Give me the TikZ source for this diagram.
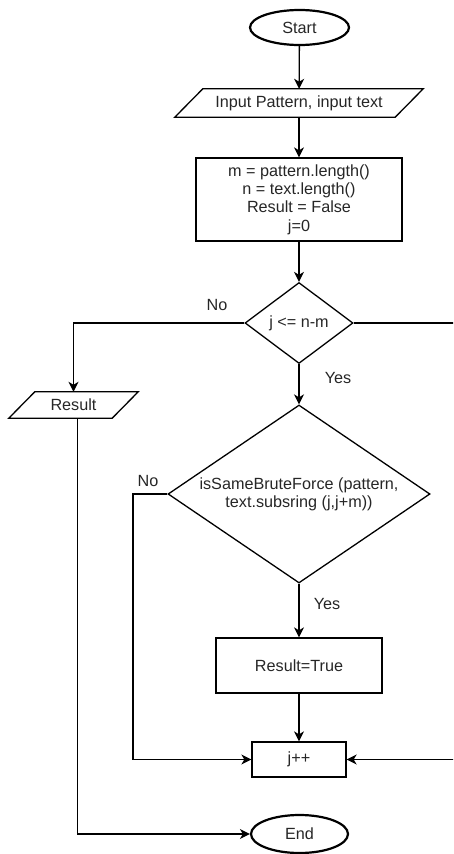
\documentclass[tikz,border=0pt]{standalone}
\usepackage{fontspec}
\setmainfont{Liberation Sans}
\usetikzlibrary{shapes.geometric,arrows.meta}
\newcommand\slantbox[2]{%
  \draw[outline] ([xshift=-#2]#1.south west) -- ([xshift=#2]#1.north west)
    -- ([xshift=#2]#1.north east) -- ([xshift=-#2]#1.south east) -- cycle;}
\begin{document}
\begin{tikzpicture}[x=1pt,y=-1pt,
  txt/.style={font=\fontsize{16.2}{18.3}\selectfont, text=black!85, align=center},
  outline/.style={line width=1.3pt},
  base/.style={txt, draw, line width=1.3pt, inner sep=0pt},
  term/.style={base, ellipse, line width=2.2pt},
  io/.style={txt, rectangle, inner sep=0pt},
  proc/.style={base, rectangle},
  dec/.style={base, diamond},
  arr/.style={line width=1.3pt, -{Stealth[length=10pt,width=10pt,inset=3pt]}},
  conn/.style={line width=1.3pt},
  lbl/.style={txt, inner sep=0pt}
]
\useasboundingbox (0,0) rectangle (453,854);
\clip (0,0) rectangle (453,854);

\node[term, minimum width=99pt, minimum height=35pt] (start) at (299.5,27.5) {Start};
\node[io, minimum width=220pt, minimum height=28pt] (inp) at (299,103) {Input Pattern, input text};
\slantbox{inp}{14pt}
\node[proc, minimum width=206pt, minimum height=83pt] (init) at (299,199.5) {m = pattern.length()\\n = text.length()\\Result = False\\j=0};
\node[dec, minimum width=108pt, minimum height=81pt, shape aspect=1.33] (d1) at (299,323) {j <= n-m};
\node[io, minimum width=103pt, minimum height=26pt] (res) at (73.5,405) {Result};
\slantbox{res}{13pt}
\node[dec, minimum width=262pt, minimum height=178pt, shape aspect=1.47] (d2) at (299,494) {isSameBruteForce (pattern,\\text.subsring (j,j+m))};
\node[proc, minimum width=166pt, minimum height=55pt] (rt) at (299,665.5) {Result=True};
\node[proc, minimum width=94pt, minimum height=35pt] (jpp) at (299,759.5) {j++};
\node[term, minimum width=97pt, minimum height=38pt] (end) at (299.5,834) {End};

\coordinate (far) at (475,323);
\coordinate (nobend) at (133,494);

\node[lbl] (no1) at (217,305) {No};
\node[lbl] (yes1) at (338,378) {Yes};
\node[lbl] (no2) at (148,481) {No};
\node[lbl] (yes2) at (327,604) {Yes};

\draw[arr] (start) -- (inp);
\draw[arr] (inp) -- (init);
\draw[arr] (init) -- (d1);
\draw[arr] (d1.west) -| (res.north);
\draw[conn] (d1.east) -- (far);
\draw[arr] (far) |- (jpp.east);
\draw[arr] (d1) -- (d2);
\draw[arr] (d2.west) -- (nobend) |- (jpp.west);
\draw[arr] (d2) -- (rt);
\draw[arr] (rt) -- (jpp);
\draw[arr] ([xshift=4pt]res.south) |- (end.west);
\end{tikzpicture}
\end{document}
